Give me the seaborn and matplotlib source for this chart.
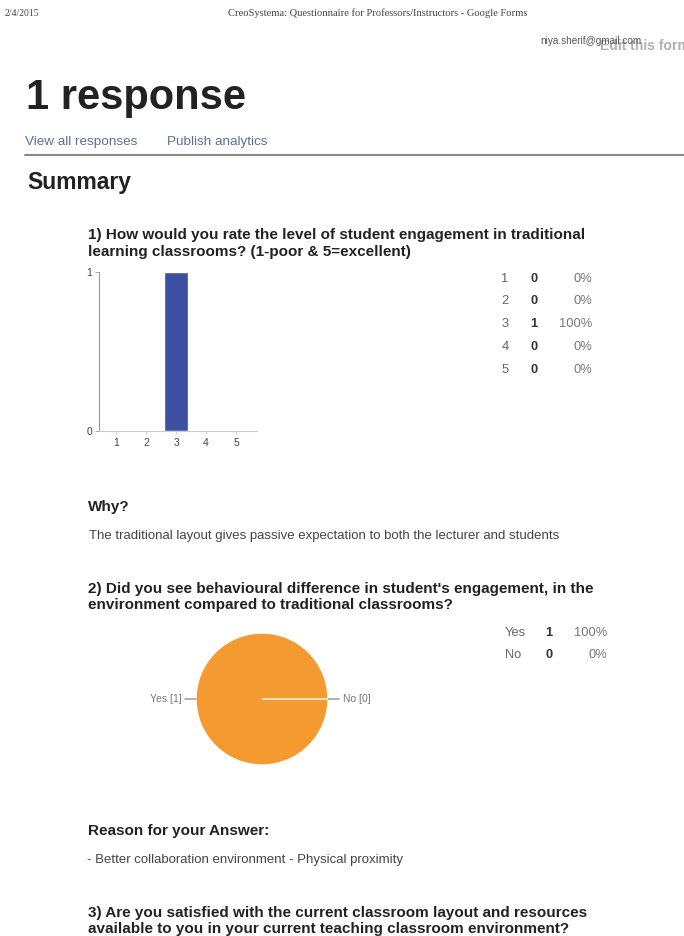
import matplotlib
matplotlib.use("Agg")
import matplotlib.pyplot as plt
import seaborn as sns
import pandas as pd

# ---- data ----
q1_ratings = ["1", "2", "3", "4", "5"]
q1_counts = [0, 0, 1, 0, 0]
q2_labels = ["Yes", "No"]
q2_counts = [1, 0]

sns.set_theme(style="white")
plt.rcParams['font.family'] = ['Liberation Sans', 'DejaVu Sans']

W, H = 684, 936
fig = plt.figure(figsize=(W / 100, H / 100), dpi=100)


def T(x, y, s, size=9, color="#222222", weight="normal", ha="left", va="center", family=None, **kw):
    kws = dict(fontsize=size, color=color, fontweight=weight, ha=ha, va=va)
    if family:
        kws["family"] = family
    kws.update(kw)
    fig.text(x / W, 1 - (y + 1.5) / H, s, **kws)


QS = 11.0  # question title size
BS = 9.5   # body size

# header
T(5, 12, "2/4/2015", size=7, color="#444444", family=["Liberation Serif", "DejaVu Serif"])
T(378, 12, "CreoSystema: Questionnaire for Professors/Instructors - Google Forms", size=7.6,
  color="#444444", ha="center", family=["Liberation Serif", "DejaVu Serif"])
T(600, 45, "Edit this form", size=10, color="#b0b0b0", weight="bold")
T(540, 40, "niya.sherif@gmail.com", size=7.2, color="#555555")

T(26, 97, "1 response", size=30, weight="bold", color="#222222")
T(25, 140, "View all responses", size=9.7, color="#60708a")
T(167, 140, "Publish analytics", size=9.7, color="#60708a")
fig.add_artist(plt.Line2D([25 / W, 1.0], [1 - 155 / H, 1 - 155 / H], color="#8a8a8a", lw=1.5))
T(27, 181, "Summary", size=16.5, weight="bold", color="#222222")

# Q1
T(88, 234, "1) How would you rate the level of student engagement in traditional", size=QS, weight="bold")
T(88, 251, "learning classrooms? (1-poor & 5=excellent)", size=QS, weight="bold")

df1 = pd.DataFrame({"rating": q1_ratings, "count": q1_counts})
ax1 = fig.add_axes([99 / W, 1 - 431 / H, (257 - 99) / W, (431 - 272) / H])
sns.barplot(data=df1, x="rating", y="count", color="#3c4fa0", width=0.8, saturation=1, ax=ax1)
ax1.set_xlim(-0.57, 4.7)
ax1.set_ylim(0, 1)
ax1.set_yticks([0, 1])
ax1.set_yticklabels(["0", "1"])
ax1.set_xlabel("")
ax1.set_ylabel("")
for s in ["top", "right"]:
    ax1.spines[s].set_visible(False)
ax1.spines["left"].set_color("#999999")
ax1.spines["left"].set_linewidth(0.8)
ax1.spines["bottom"].set_color("#cccccc")
ax1.spines["bottom"].set_linewidth(0.8)
ax1.tick_params(axis="y", left=True, length=3, width=0.6, color="#999999", labelsize=7.5,
                labelcolor="#444444", pad=2)
ax1.tick_params(axis="x", bottom=True, length=2, width=0.6, color="#cccccc", labelsize=7.5,
                labelcolor="#444444", pad=3)

# table 1
tot1 = sum(q1_counts)
for i, (r, c) in enumerate(zip(q1_ratings, q1_counts)):
    y = 277 + i * 22.8
    T(505, y, r, size=9.3, color="#666666", ha="center")
    T(534, y, str(c), size=9.3, color="#333333", weight="bold", ha="center")
    T(592, y, f"{round(100 * c / tot1)}%", size=9.3, color="#777777", ha="right")

T(88, 506, "Why?", size=QS, weight="bold")
T(89, 535, "The traditional layout gives passive expectation to both the lecturer and students",
  size=BS, color="#444444")

# Q2
T(88, 588, "2) Did you see behavioural difference in student's engagement, in the", size=QS, weight="bold")
T(88, 604, "environment compared to traditional classrooms?", size=QS, weight="bold")

tot2 = sum(q2_counts)
for i, (lab, c) in enumerate(zip(q2_labels, q2_counts)):
    y = 631 + i * 22
    T(505, y, lab, size=9.3, color="#666666")
    T(549, y, str(c), size=9.3, color="#333333", weight="bold", ha="center")
    T(607, y, f"{round(100 * c / tot2)}%", size=9.3, color="#777777", ha="right")

cx, cy, r = 262, 699, 66
ax2 = fig.add_axes([(cx - r) / W, 1 - (cy + r) / H, 2 * r / W, 2 * r / H])
ax2.pie(q2_counts, colors=["#f59a30", "#c0392b"], startangle=0, counterclock=True,
        wedgeprops=dict(edgecolor="white", linewidth=1.0))
ax2.set_xlim(-1, 1)
ax2.set_ylim(-1, 1)
ax2.axis("off")
# labels with leader lines
ax2.annotate(f"{q2_labels[0]} [{q2_counts[0]}]", xy=(-1.0, 0), xytext=(-1.22, 0),
             ha="right", va="center", fontsize=7.5, color="#777777",
             arrowprops=dict(arrowstyle="-", color="#777777", lw=0.8, shrinkA=0, shrinkB=0),
             annotation_clip=False)
ax2.annotate(f"{q2_labels[1]} [{q2_counts[1]}]", xy=(1.0, 0), xytext=(1.22, 0),
             ha="left", va="center", fontsize=7.5, color="#777777",
             arrowprops=dict(arrowstyle="-", color="#777777", lw=0.8, shrinkA=0, shrinkB=0),
             annotation_clip=False)

T(88, 829, "Reason for your Answer:", size=QS, weight="bold")
T(87, 858, "- Better collaboration environment - Physical proximity", size=BS, color="#444444")

T(88, 911, "3) Are you satisfied with the current classroom layout and resources", size=QS, weight="bold")
T(88, 927, "available to you in your current teaching classroom environment?", size=QS, weight="bold")

fig.savefig("out.png", dpi=100)
